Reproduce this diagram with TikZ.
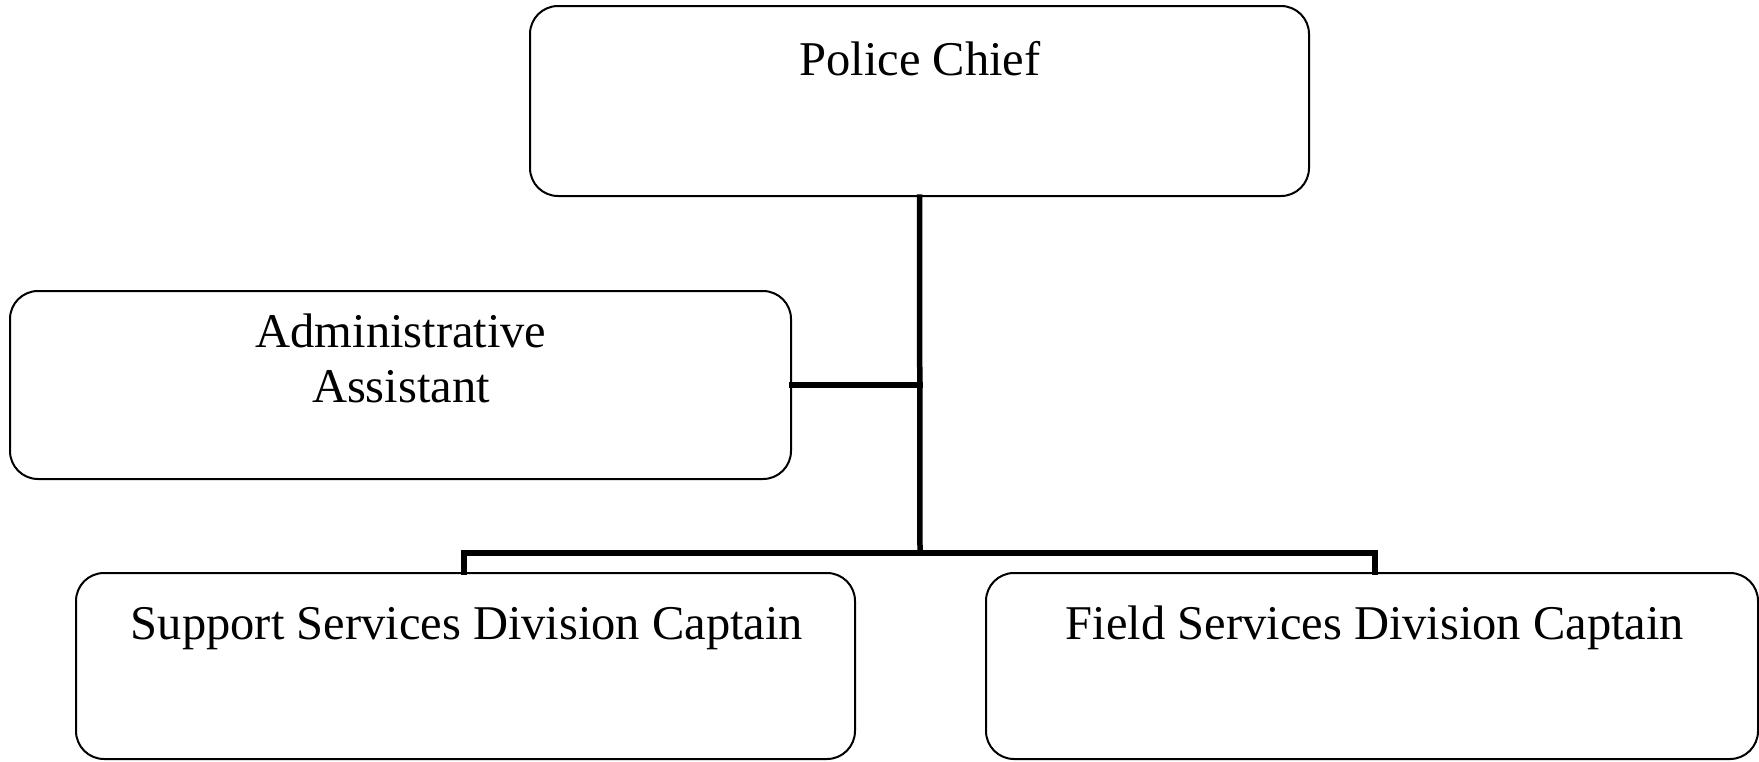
\documentclass[tikz,border=0pt]{standalone}
\usepackage{fontspec}
\setmainfont{Liberation Serif}
\begin{document}
\begin{tikzpicture}[x=1pt,y=-1pt,
  box/.style={draw=black,line width=2pt,rounded corners=28pt,inner sep=0pt},
  lbl/.style={anchor=base,inner sep=0pt,font=\fontsize{48.5}{55}\selectfont,align=center},
  link/.style={draw=black,line width=5.5pt,line cap=rect}]
  \useasboundingbox (0,0) rectangle (1759,761);
  % boxes
  \node[box,minimum width=779pt,minimum height=190pt] (chief) at (919.5,101) {};
  \node[box,minimum width=781pt,minimum height=188pt] (admin) at (400.5,385) {};
  \node[box,minimum width=779pt,minimum height=186pt] (support) at (465.5,666) {};
  \node[box,minimum width=772pt,minimum height=186pt] (field) at (1372,666) {};
  % texts
  \node[lbl] (tchief) at (920,75) {Police Chief};
  \node[lbl] (tadmin1) at (401,347) {Administrative};
  \node[lbl] (tadmin2) at (401,402) {Assistant};
  \node[lbl] (tsupport) at (467,639) {Support Services Division Captain};
  \node[lbl] (tfield) at (1375,639) {Field Services Division Captain};
  % connectors
  \coordinate (junc) at (920,385);
  \coordinate (bus) at (920,553);
  \coordinate (busl) at (464,553);
  \coordinate (busr) at (1375,553);
  \draw[link] (chief.south) -- (bus);
  \draw[link] (admin.east) -- (junc);
  \draw[link] (support.north -| busl) -- (busl) -- (busr) -- (field.north -| busr);
\end{tikzpicture}
\end{document}
